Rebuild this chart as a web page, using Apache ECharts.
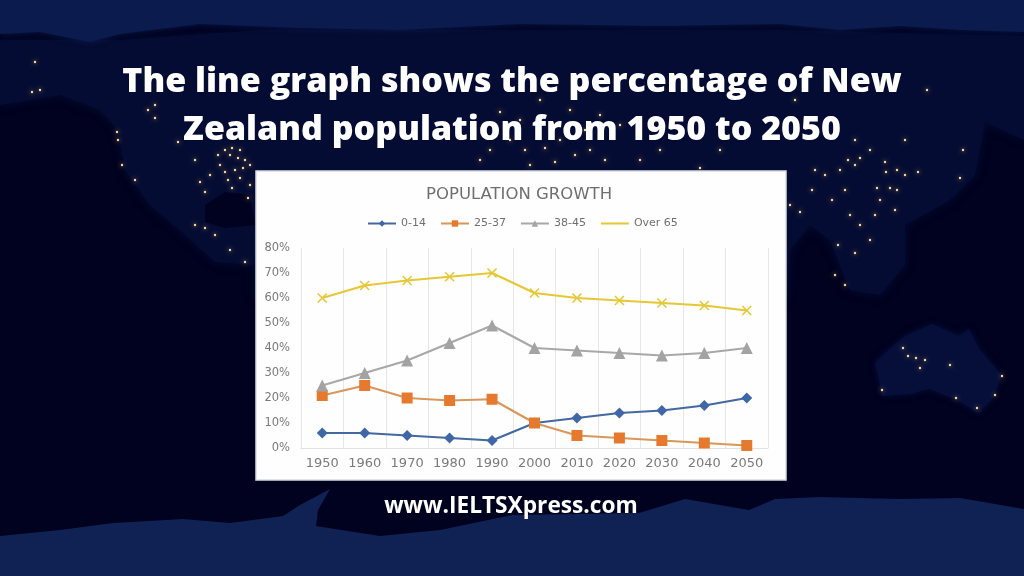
<!DOCTYPE html>
<html><head><meta charset="utf-8">
<style>html,body{margin:0;padding:0;background:#01021f}#c{width:1024px;height:576px}</style>
<script src="https://cdn.jsdelivr.net/npm/echarts@6/dist/echarts.min.js"></script>
</head><body><div id="c"></div>
<script>
const years = ['1950','1960','1970','1980','1990','2000','2010','2020','2030','2040','2050'];
const age0to14 = [6,6,5,4,3,10,12,14,15,17,20];
const age25to37 = [21,25,20,19,19.5,10,5,4,3,2,1];
const age38to45 = [25,30,35,42,49,40,39,38,37,38,40];
const over65 = [60,65,67,68.5,70,62,60,59,58,57,55];
const heading = 'The line graph shows the percentage of New\nZealand population from 1950 to 2050';
const chartTitle = 'POPULATION GROWTH';
const website = 'www.IELTSXpress.com';

// backdrop scenery (night-time world map), not chart data
const topSea = [[0,0],[1024,0],[1024,32],[960,30],[900,26],[840,30],[780,24],[660,26],[520,24],[400,30],[300,28],[200,24],[120,34],[90,42],[40,32],[0,34]];
const bottomSea = [[0,536],[60,530],[113,523],[183,519],[230,523],[283,516],[300,505],[330,489],[318,510],[316,526],[380,536],[440,530],[512,515],[639,513],[685,499],[749,510],[775,499],[819,497],[900,499],[960,498],[1024,509],[1024,576],[0,576]];
const northLand = [[0,40],[120,40],[260,30],[520,30],[780,30],[1024,36],[1024,140],[985,122],[975,175],[950,200],[905,225],[905,265],[880,295],[850,290],[830,240],[810,225],[790,250],[786,300],[255,300],[255,265],[215,262],[180,230],[150,205],[125,170],[118,130],[100,110],[60,95],[0,105]];
const australia = [[875,363],[885,353],[905,336],[932,324],[959,336],[969,329],[979,349],[1002,376],[992,399],[979,413],[955,399],[929,389],[909,394],[882,396],[879,379]];
const gulf = [[205,205],[225,192],[250,195],[255,225],[225,228],[205,222]];
const lights = [[35,62],[40,90],[32,92],[117,132],[118,140],[122,165],[135,180],[148,110],[155,105],[155,118],[178,142],[195,160],[200,182],[205,192],[225,150],[230,155],[240,150],[245,160],[250,165],[235,170],[220,165],[210,175],[228,180],[240,178],[250,185],[248,198],[195,225],[205,228],[215,235],[230,250],[245,262],
[232,148],[238,158],[243,168],[225,172],[232,188],[218,155],
[500,112],[520,120],[540,100],[570,110],[600,115],[620,125],[490,150],[480,160],[640,160],[660,150],[700,168],[720,150],[790,205],[800,212],[812,190],[845,190],[855,165],[870,150],[885,162],[886,172],[897,170],[905,175],[918,172],[960,178],[963,150],[848,160],[890,188],[897,190],[877,188],[875,215],[860,225],[838,245],[855,253],[832,200],[815,170],[825,175],[840,170],[850,215],[835,275],[845,285],
[510,140],[525,150],[545,148],[560,140],[575,155],[590,150],[605,160],[530,165],[555,162],[495,125],[585,130],
[860,158],[905,140],[927,90],[795,100],[855,140],[880,200],[895,210],[870,240],
[882,390],[903,348],[908,356],[916,358],[920,368],[925,360],[950,365],[977,408],[1002,376],[995,395],[956,398]];

const bg = [
  {type:'rect',z:-30,shape:{x:0,y:0,width:1024,height:576},style:{fill:'#01021f'}},
  {type:'polygon',z:-29,shape:{points:northLand},style:{fill:'#050c33',shadowBlur:10,shadowColor:'#050c33'}},
  {type:'polygon',z:-29,shape:{points:australia},style:{fill:'#060f3a',shadowBlur:6,shadowColor:'#060f3a'}},
  {type:'polygon',z:-28,shape:{points:gulf},style:{fill:'#01021f'}},
  {type:'polygon',z:-27,shape:{points:topSea},style:{fill:'#0b1b4e',shadowBlur:6,shadowColor:'#0b1b4e'}},
  {type:'polygon',z:-27,shape:{points:bottomSea},style:{fill:'#102153'}},
  ...lights.map(p=>({type:'circle',z:-26,shape:{cx:p[0],cy:p[1],r:1.2},style:{fill:'#f6dca0',shadowBlur:5,shadowColor:'#e8b860'}})),
  {type:'rect',z:-20,shape:{x:256,y:171,width:530,height:309},style:{fill:'#fefefe',stroke:'#d8dde2',lineWidth:1.5}}
];
const cross = 'path://M0 0L10 10M10 0L0 10';
const mk = (name,data,color,line,symbol,size,extra)=>({name,type:'line',data,symbol,symbolSize:size,showSymbol:true,
  lineStyle:{color:line,width:2.2},itemStyle:Object.assign({color},extra||{}),emphasis:{disabled:true}});

const chart = echarts.init(document.getElementById('c'),null,{renderer:'canvas'});
chart.setOption({
  animation:false,
  title:[
    {text:heading,left:507,top:53,textAlign:'center',textStyle:{color:'#ffffff',fontFamily:'Open Sans',fontWeight:800,fontSize:34,lineHeight:48,align:'center'}},
    {text:chartTitle,left:421,top:181,textStyle:{color:'#6f6f6f',fontFamily:'DejaVu Sans',fontWeight:'normal',fontSize:16.5}},
    {text:website,left:506,top:490,textAlign:'center',textStyle:{color:'#ffffff',fontFamily:'Open Sans',fontWeight:700,fontSize:22.7}}
  ],
  graphic:{elements:bg},
  legend:{left:362,top:213,itemWidth:28,itemHeight:8,itemGap:14,textStyle:{color:'#6f6f6f',fontFamily:'DejaVu Sans',fontSize:11},
    data:['0-14','25-37','38-45',{name:'Over 65',itemStyle:{opacity:0}}]},
  grid:{left:301,right:256,top:248,bottom:128,containLabel:false},
  xAxis:{type:'category',data:years,boundaryGap:true,
    axisLine:{show:true,lineStyle:{color:'#e3e3e3'}},axisTick:{show:false},
    splitLine:{show:true,lineStyle:{color:'#e6e6e6'}},
    axisLabel:{color:'#7a7a7a',fontFamily:'DejaVu Sans',fontSize:13,margin:9,interval:0}},
  yAxis:{type:'value',min:0,max:80,interval:10,
    axisLine:{show:false},axisTick:{show:false},splitLine:{show:false},
    axisLabel:{color:'#7a7a7a',fontFamily:'DejaVu Sans',fontSize:11.5,margin:11,formatter:'{value}%'}},
  series:[
    mk('0-14',age0to14,'#3f67a8','#44689f','diamond',11),
    mk('25-37',age25to37,'#e57a2e','#d9975a','rect',11),
    mk('38-45',age38to45,'#a3a3a3','#a8a8a8','triangle',12),
    mk('Over 65',over65,'#e6c735','#e6c735',cross,9,{borderColor:'#e6c735',borderWidth:1.6})
  ]
});
</script></body></html>
